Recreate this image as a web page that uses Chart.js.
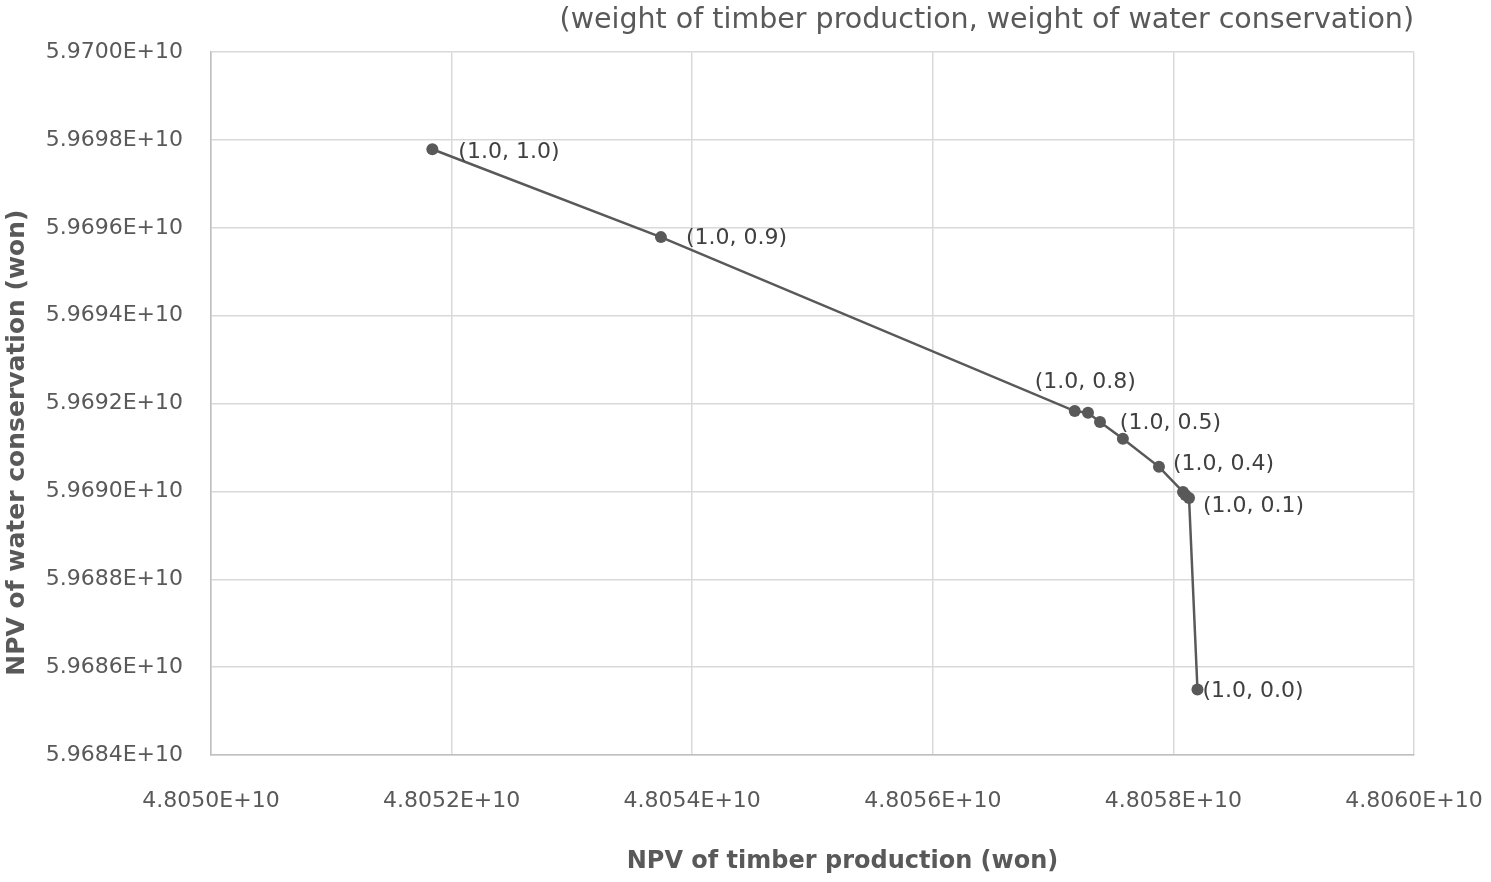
<!DOCTYPE html>
<html>
<head>
<meta charset="utf-8">
<script src="https://cdn.jsdelivr.net/npm/chart.js@4"></script>
<style>
  html, body { margin: 0; padding: 0; background: #fff; }
  #wrap { width: 1491px; height: 882px; }
</style>
</head>
<body>
<div id="wrap"><canvas id="c"></canvas></div>
<script>
/* DATA */
const timberNpv = [
  4.805184e10, 4.805374e10, 4.805718e10, 4.805729e10, 4.805739e10, 4.805758e10,
  4.805788e10, 4.805808e10, 4.805810e10, 4.805813e10, 4.805820e10
];
const waterNpv = [
  5.969779e10, 5.969579e10, 5.969183e10, 5.969179e10, 5.969158e10, 5.969120e10,
  5.969056e10, 5.968999e10, 5.968992e10, 5.968985e10, 5.968549e10
];
const pointLabels = [
  "(1.0, 1.0)", "(1.0, 0.9)", "(1.0, 0.8)", "", "", "(1.0, 0.5)",
  "(1.0, 0.4)", "", "", "(1.0, 0.1)", "(1.0, 0.0)"
];
const xTicks = [4.8050e10, 4.8052e10, 4.8054e10, 4.8056e10, 4.8058e10, 4.8060e10];
const yTicks = [5.9684e10, 5.9686e10, 5.9688e10, 5.9690e10, 5.9692e10, 5.9694e10, 5.9696e10, 5.9698e10, 5.9700e10];
const xTitle = "NPV of timber production (won)";
const yTitle = "NPV of water conservation (won)";

const FONT = "'DejaVu Sans', 'Noto Sans', sans-serif";
const fmt = (v) => Number(v).toExponential(4).replace("e", "E");

/* label nudges, picked by eye (dx, dy from point centre) */
const labelNudge = [[26,3],[25,1],[-40,-29],null,null,[-3,-15],[14,-3],null,null,[14,8],[5,2]];

const labelPlugin = {
  id: "pointText",
  afterDatasetsDraw(chart) {
    const ctx = chart.ctx;
    const meta = chart.getDatasetMeta(0);
    ctx.save();
    ctx.font = "22px " + FONT;
    ctx.fillStyle = "#404040";
    ctx.textAlign = "left";
    ctx.textBaseline = "middle";
    meta.data.forEach((pt, i) => {
      if (!pointLabels[i]) return;
      const n = labelNudge[i] || [10, 0];
      ctx.fillText(pointLabels[i], pt.x + n[0], pt.y + n[1]);
    });
    ctx.restore();
  }
};

/* axis titles sit a bit off-centre in the reference, so draw them here */
const axisTitles = {
  id: "axisTitles",
  afterDraw(chart) {
    const ctx = chart.ctx;
    const a = chart.chartArea;
    ctx.save();
    ctx.fillStyle = "#595959";
    ctx.textAlign = "center";
    ctx.textBaseline = "middle";
    ctx.font = "bold 24px " + FONT;
    ctx.fillText(xTitle, (a.left + a.right) / 2 + 30, 862);
    ctx.translate(17, (a.top + a.bottom) / 2 + 39);
    ctx.rotate(-Math.PI / 2);
    ctx.font = "bold 25px " + FONT;
    ctx.fillText(yTitle, 0, 0);
    ctx.restore();
  }
};

// keep the plot box where the reference has it
const noOverflow = (s) => {
  s.paddingLeft = 0; s.paddingRight = 0;
  s.paddingTop = 0; s.paddingBottom = 0;
};

new Chart(document.getElementById("c"), {
  type: "scatter",
  data: {
    datasets: [{
      data: timberNpv.map((x, i) => ({ x: x, y: waterNpv[i] })),
      showLine: true,
      borderColor: "#595959",
      backgroundColor: "#595959",
      borderWidth: 2.5,
      pointRadius: 6,
      pointBorderWidth: 0
    }]
  },
  options: {
    responsive: true,
    maintainAspectRatio: false,
    animation: false,
    layout: { padding: { left: 0, right: 77, top: 0, bottom: 0 } },
    plugins: {
      legend: { display: false },
      tooltip: { enabled: false },
      title: {
        display: true,
        text: "(weight of timber production, weight of water conservation)",
        align: "end",
        color: "#595959",
        font: { family: FONT, size: 28.5, weight: "normal" },
        padding: { top: 3, bottom: 15 }
      }
    },
    scales: {
      x: {
        type: "linear",
        min: xTicks[0],
        max: xTicks[xTicks.length - 1],
        afterBuildTicks: (s) => { s.ticks = xTicks.map(v => ({ value: v })); },
        afterFit: (s) => { s.height = 127; noOverflow(s); },
        grid: { color: "#d9d9d9", lineWidth: 1.5, drawTicks: false },
        border: { color: "#bfbfbf", width: 1.5 },
        ticks: {
          padding: 33,
          color: "#595959",
          font: { family: FONT, size: 22 },
          maxRotation: 0,
          callback: (v) => fmt(v)
        },
        title: { display: false }
      },
      y: {
        type: "linear",
        min: yTicks[0],
        max: yTicks[yTicks.length - 1],
        afterBuildTicks: (s) => { s.ticks = yTicks.map(v => ({ value: v })); },
        afterFit: (s) => { s.width = 211; noOverflow(s); },
        grid: { color: "#d9d9d9", lineWidth: 1.5, drawTicks: false },
        border: { color: "#bfbfbf", width: 1.5 },
        ticks: {
          padding: 28,
          color: "#595959",
          font: { family: FONT, size: 22 },
          callback: (v) => fmt(v)
        },
        title: { display: false }
      }
    }
  },
  plugins: [labelPlugin, axisTitles]
});
</script>
</body>
</html>
